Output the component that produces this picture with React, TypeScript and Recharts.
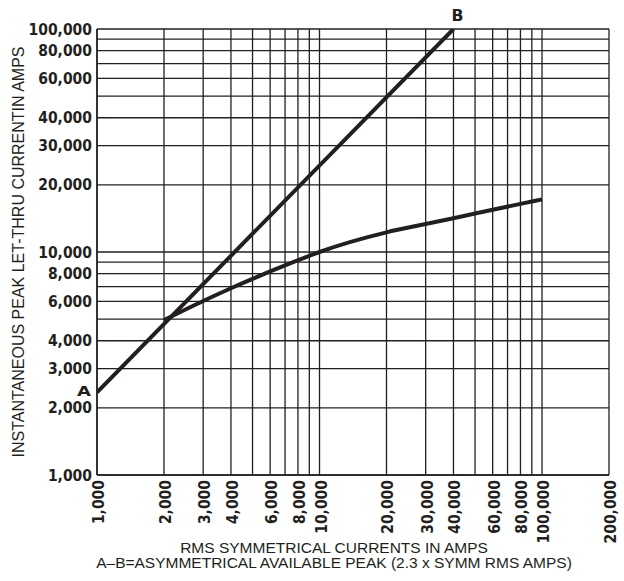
import { LineChart, Line, XAxis, YAxis, CartesianGrid, Label } from "recharts";

// grid lines at every 1-9 multiple, labels only on some of them
const xGrid = [
  1000, 2000, 3000, 4000, 5000, 6000, 7000, 8000, 9000,
  10000, 20000, 30000, 40000, 50000, 60000, 70000, 80000, 90000,
  100000, 200000,
];
const xLabeled = [
  1000, 2000, 3000, 4000, 6000, 8000, 10000, 20000, 30000, 40000, 60000,
  80000, 100000, 200000,
];
const yGrid = [
  1000, 2000, 3000, 4000, 5000, 6000, 7000, 8000, 9000,
  10000, 20000, 30000, 40000, 50000, 60000, 70000, 80000, 90000, 100000,
];
const yLabeled = [
  1000, 2000, 3000, 4000, 6000, 8000, 10000, 20000, 30000, 40000, 60000,
  80000, 100000,
];

// A-B: asymmetrical available peak
const abCurrent = [1000, 40000];
const abPeak = [2350, 100000];

// let-thru curve
const letThruCurrent = [
  2000, 3000, 4000, 5000, 6000, 7000, 8000, 9000, 10000, 20000, 30000,
  40000, 60000, 80000, 100000,
];
const letThruPeak = [
  4950, 6030, 6880, 7580, 8180, 8710, 9180, 9610, 10000, 12250, 13350,
  14180, 15460, 16430, 17220,
];

const abData = abCurrent.map((x, i) => ({ x, y: abPeak[i] }));
const letThruData = letThruCurrent.map((x, i) => ({ x, y: letThruPeak[i] }));

const INK = "#231f20";
const tickFont = "'DejaVu Sans Condensed', sans-serif";
const titleFont = "'Liberation Sans', Arial, sans-serif";
const letterFont = "'DejaVu Sans', sans-serif";

const fmt = (v: number) => v.toLocaleString("en-US");

function XTick({ x, y, payload }: any) {
  if (!xLabeled.includes(payload.value)) return null;
  return (
    <text
      x={x + 7}
      y={y}
      transform={`rotate(-90, ${x + 7}, ${y})`}
      textAnchor="end"
      fill={INK}
      fontFamily={tickFont}
      fontWeight="bold"
      fontSize={15.5}
    >
      {fmt(payload.value)}
    </text>
  );
}

function YTick({ x, y, payload }: any) {
  if (!yLabeled.includes(payload.value)) return null;
  return (
    <text
      x={x}
      y={y}
      dy="0.36em"
      textAnchor="end"
      fill={INK}
      fontFamily={tickFont}
      fontWeight="bold"
      fontSize={15.5}
    >
      {fmt(payload.value)}
    </text>
  );
}

function EndLabel({ x, y, index }: any) {
  if (index === 0) {
    return (
      <text x={x - 20} y={y + 4} fill={INK} fontFamily={letterFont}
        fontWeight="bold" fontSize={14.5} textLength={14} lengthAdjust="spacingAndGlyphs">
        A
      </text>
    );
  }
  if (index === abData.length - 1) {
    return (
      <text x={x - 2} y={y - 8} fill={INK} fontFamily={letterFont}
        fontWeight="bold" fontSize={15} textLength={12} lengthAdjust="spacingAndGlyphs">
        B
      </text>
    );
  }
  return null;
}

function XTitle({ viewBox }: any) {
  const cx = viewBox.x + viewBox.width / 2 - 19;
  return (
    <text textAnchor="middle" fill={INK} fontFamily={titleFont} fontSize={15.5}>
      <tspan x={cx} y={552.5}>RMS SYMMETRICAL CURRENTS IN AMPS</tspan>
      <tspan x={cx} y={568}>A–B=ASYMMETRICAL AVAILABLE PEAK (2.3 x SYMM RMS AMPS)</tspan>
    </text>
  );
}

function YTitle({ viewBox }: any) {
  const cy = viewBox.y + viewBox.height / 2;
  return (
    <text
      x={24}
      y={cy}
      transform={`rotate(-90, 24, ${cy})`}
      textAnchor="middle"
      fill={INK}
      fontFamily={titleFont}
      fontSize={16}
    >
      INSTANTANEOUS PEAK LET-THRU CURRENTIN AMPS
    </text>
  );
}

export default function App() {
  return (
    <div style={{ position: "absolute", left: 0, top: 0, background: "#fff" }}>
      <LineChart
        width={624}
        height={581}
        margin={{ top: 29, right: 15, left: 0, bottom: 0 }}
      >
        <CartesianGrid stroke={INK} strokeWidth={1.3} />
        <XAxis
          type="number"
          dataKey="x"
          scale="log"
          domain={[1000, 200000]}
          ticks={xGrid}
          interval={0}
          allowDataOverflow
          height={106}
          tickLine={false}
          tickSize={3}
          tickMargin={2}
          axisLine={{ stroke: INK, strokeWidth: 1.5 }}
          tick={<XTick />}
        >
          <Label content={<XTitle />} />
        </XAxis>
        <YAxis
          type="number"
          dataKey="y"
          scale="log"
          domain={[1000, 100000]}
          ticks={yGrid}
          interval={0}
          allowDataOverflow
          width={97}
          tickLine={false}
          tickSize={3}
          tickMargin={2}
          axisLine={{ stroke: INK, strokeWidth: 1.5 }}
          tick={<YTick />}
        >
          <Label content={<YTitle />} />
        </YAxis>
        <Line
          data={abData}
          dataKey="y"
          type="linear"
          stroke={INK}
          strokeWidth={4}
          dot={false}
          isAnimationActive={false}
          label={<EndLabel />}
        />
        <Line
          data={letThruData}
          dataKey="y"
          type="monotone"
          stroke={INK}
          strokeWidth={4}
          dot={false}
          isAnimationActive={false}
        />
      </LineChart>
    </div>
  );
}
